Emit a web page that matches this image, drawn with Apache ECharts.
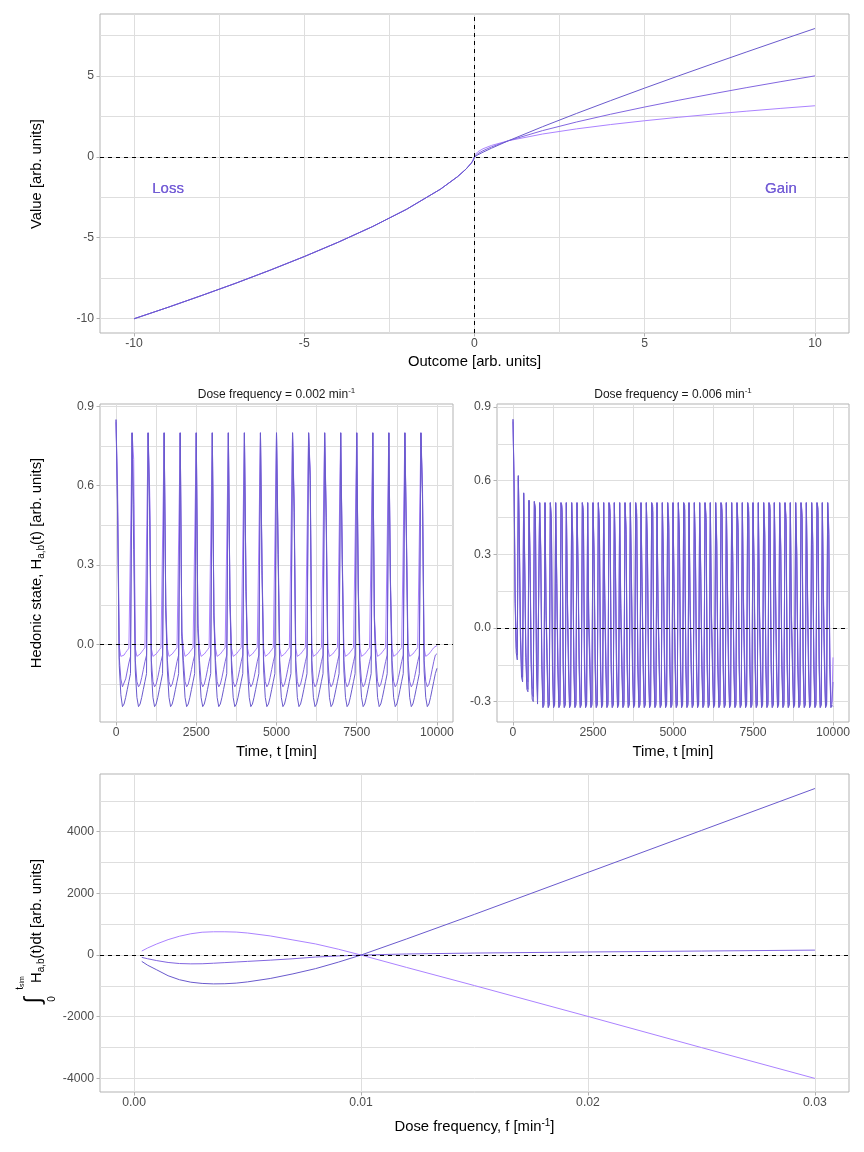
<!DOCTYPE html>
<html><head><meta charset="utf-8">
<script src="https://cdn.jsdelivr.net/npm/echarts@6/dist/echarts.min.js"></script>
<style>html,body{margin:0;padding:0;background:#fff}#c{width:864px;height:1152px}</style>
</head><body><div id="c"></div>
<script>
// ---------------- DATA ----------------
// Top panel: value function
const outcomeX = [-10,-9,-8,-7,-6,-5,-4,-3,-2,-1,-0.5,-0.25,-0.1,-0.05,-0.02,0,0.02,0.05,0.1,0.25,0.5,1,2,3,4,5,6,7,8,9,10];
const valueDark  = [-10.02,-9.31,-8.57,-7.81,-7.01,-6.17,-5.28,-4.32,-3.25,-2.00,-1.23,-0.76,-0.40,-0.25,-0.13,0,0.03,0.068,0.126,0.287,0.536,1,1.866,2.688,3.482,4.257,5.016,5.762,6.498,7.225,7.943];
const valueMid   = [-10.02,-9.31,-8.57,-7.81,-7.01,-6.17,-5.28,-4.32,-3.25,-2.00,-1.23,-0.76,-0.40,-0.25,-0.13,0,0.065,0.123,0.200,0.379,0.616,1,1.625,2.158,2.639,3.085,3.505,3.903,4.287,4.655,5.012];
const valueLight = [-10.02,-9.31,-8.57,-7.81,-7.01,-6.17,-5.28,-4.32,-3.25,-2.00,-1.23,-0.76,-0.40,-0.25,-0.13,0,0.141,0.224,0.316,0.5,0.707,1,1.414,1.732,2,2.236,2.449,2.646,2.828,3,3.162];
const annotations = [[-9,-2,'Loss'],[9,-2,'Gain']];

// Middle-left panel: dose frequency 0.002 /min, samples every 50 min (t = 0..10000)
const leftStepMin = 50;
const hedLeftDark = [
0.85,0.47,-0.08,-0.19,-0.235,-0.225,-0.20,-0.17,-0.14,-0.11,
0.80,0.36,-0.10,-0.20,-0.235,-0.225,-0.20,-0.17,-0.14,-0.11,
0.80,0.47,-0.10,-0.20,-0.235,-0.225,-0.20,-0.17,-0.14,-0.11,
0.80,0.13,-0.10,-0.20,-0.235,-0.225,-0.20,-0.17,-0.14,-0.11,
0.80,0.03,-0.10,-0.20,-0.235,-0.225,-0.20,-0.17,-0.14,-0.11,
0.80,0.06,-0.10,-0.20,-0.235,-0.225,-0.20,-0.17,-0.14,-0.11,
0.80,0.10,-0.10,-0.20,-0.235,-0.225,-0.20,-0.17,-0.14,-0.11,
0.80,0.16,-0.10,-0.20,-0.235,-0.225,-0.20,-0.17,-0.14,-0.11,
0.80,0.20,-0.10,-0.20,-0.235,-0.225,-0.20,-0.17,-0.14,-0.11,
0.80,0.26,-0.10,-0.20,-0.235,-0.225,-0.20,-0.17,-0.14,-0.11,
0.80,0.34,-0.10,-0.20,-0.235,-0.225,-0.20,-0.17,-0.14,-0.11,
0.80,0.50,-0.10,-0.20,-0.235,-0.225,-0.20,-0.17,-0.14,-0.11,
0.80,0.62,-0.10,-0.20,-0.235,-0.225,-0.20,-0.17,-0.14,-0.11,
0.80,0.45,-0.10,-0.20,-0.235,-0.225,-0.20,-0.17,-0.14,-0.11,
0.80,0.30,-0.10,-0.20,-0.235,-0.225,-0.20,-0.17,-0.14,-0.11,
0.80,0.18,-0.10,-0.20,-0.235,-0.225,-0.20,-0.17,-0.14,-0.11,
0.80,0.09,-0.10,-0.20,-0.235,-0.225,-0.20,-0.17,-0.14,-0.11,
0.80,0.22,-0.10,-0.20,-0.235,-0.225,-0.20,-0.17,-0.14,-0.11,
0.80,0.38,-0.10,-0.20,-0.235,-0.225,-0.20,-0.17,-0.14,-0.11,
0.80,0.55,-0.10,-0.20,-0.235,-0.225,-0.20,-0.17,-0.14,-0.11,
-0.09];
const hedLeftMid = [
0.85,0.52,-0.05,-0.13,-0.16,-0.155,-0.13,-0.10,-0.07,-0.045,
0.80,0.53,-0.06,-0.14,-0.16,-0.15,-0.125,-0.095,-0.065,-0.04,
0.80,0.52,-0.06,-0.14,-0.16,-0.15,-0.125,-0.095,-0.065,-0.04,
0.80,0.14,-0.06,-0.14,-0.16,-0.15,-0.125,-0.095,-0.065,-0.04,
0.80,0.04,-0.06,-0.14,-0.16,-0.15,-0.125,-0.095,-0.065,-0.04,
0.80,0.07,-0.06,-0.14,-0.16,-0.15,-0.125,-0.095,-0.065,-0.04,
0.80,0.11,-0.06,-0.14,-0.16,-0.15,-0.125,-0.095,-0.065,-0.04,
0.80,0.17,-0.06,-0.14,-0.16,-0.15,-0.125,-0.095,-0.065,-0.04,
0.80,0.21,-0.06,-0.14,-0.16,-0.15,-0.125,-0.095,-0.065,-0.04,
0.80,0.28,-0.06,-0.14,-0.16,-0.15,-0.125,-0.095,-0.065,-0.04,
0.80,0.36,-0.06,-0.14,-0.16,-0.15,-0.125,-0.095,-0.065,-0.04,
0.80,0.52,-0.06,-0.14,-0.16,-0.15,-0.125,-0.095,-0.065,-0.04,
0.80,0.64,-0.06,-0.14,-0.16,-0.15,-0.125,-0.095,-0.065,-0.04,
0.80,0.48,-0.06,-0.14,-0.16,-0.15,-0.125,-0.095,-0.065,-0.04,
0.80,0.32,-0.06,-0.14,-0.16,-0.15,-0.125,-0.095,-0.065,-0.04,
0.80,0.20,-0.06,-0.14,-0.16,-0.15,-0.125,-0.095,-0.065,-0.04,
0.80,0.10,-0.06,-0.14,-0.16,-0.15,-0.125,-0.095,-0.065,-0.04,
0.80,0.24,-0.06,-0.14,-0.16,-0.15,-0.125,-0.095,-0.065,-0.04,
0.80,0.40,-0.06,-0.14,-0.16,-0.15,-0.125,-0.095,-0.065,-0.04,
0.80,0.57,-0.06,-0.14,-0.16,-0.15,-0.125,-0.095,-0.065,-0.04,
-0.035];
const hedLeftLight = [
0.84,0.58,-0.01,-0.045,-0.045,-0.04,-0.03,-0.022,-0.014,-0.007,
0.80,0.70,-0.015,-0.045,-0.043,-0.036,-0.028,-0.02,-0.012,-0.005,
0.80,0.57,-0.015,-0.045,-0.043,-0.036,-0.028,-0.02,-0.012,-0.005,
0.80,0.15,-0.015,-0.045,-0.043,-0.036,-0.028,-0.02,-0.012,-0.005,
0.80,0.05,-0.015,-0.045,-0.043,-0.036,-0.028,-0.02,-0.012,-0.005,
0.80,0.08,-0.015,-0.045,-0.043,-0.036,-0.028,-0.02,-0.012,-0.005,
0.80,0.12,-0.015,-0.045,-0.043,-0.036,-0.028,-0.02,-0.012,-0.005,
0.80,0.18,-0.015,-0.045,-0.043,-0.036,-0.028,-0.02,-0.012,-0.005,
0.80,0.23,-0.015,-0.045,-0.043,-0.036,-0.028,-0.02,-0.012,-0.005,
0.80,0.29,-0.015,-0.045,-0.043,-0.036,-0.028,-0.02,-0.012,-0.005,
0.80,0.38,-0.015,-0.045,-0.043,-0.036,-0.028,-0.02,-0.012,-0.005,
0.80,0.55,-0.015,-0.045,-0.043,-0.036,-0.028,-0.02,-0.012,-0.005,
0.80,0.66,-0.015,-0.045,-0.043,-0.036,-0.028,-0.02,-0.012,-0.005,
0.80,0.50,-0.015,-0.045,-0.043,-0.036,-0.028,-0.02,-0.012,-0.005,
0.80,0.34,-0.015,-0.045,-0.043,-0.036,-0.028,-0.02,-0.012,-0.005,
0.80,0.21,-0.015,-0.045,-0.043,-0.036,-0.028,-0.02,-0.012,-0.005,
0.80,0.11,-0.015,-0.045,-0.043,-0.036,-0.028,-0.02,-0.012,-0.005,
0.80,0.25,-0.015,-0.045,-0.043,-0.036,-0.028,-0.02,-0.012,-0.005,
0.80,0.42,-0.015,-0.045,-0.043,-0.036,-0.028,-0.02,-0.012,-0.005,
0.80,0.60,-0.015,-0.045,-0.043,-0.036,-0.028,-0.02,-0.012,-0.005,
-0.004];

// Middle-right panel: dose frequency 0.006 /min, samples every 1000/30 min (t = 0..10000)
const rightStepMin = 1000 / 30;
const hedRightDark = [
0.85,0.57,0.10,-0.10,-0.13, 0.62,0.33,-0.05,-0.20,-0.22, 0.55,0.24,-0.12,-0.25,-0.26, 0.52,0.25,-0.15,-0.29,-0.30, 0.515,0.48,-0.16,-0.31,-0.31,
0.51,0.30,-0.17,-0.325,-0.315, 0.51,0.05,-0.17,-0.325,-0.315, 0.51,0.42,-0.17,-0.325,-0.315, 0.51,0.18,-0.17,-0.325,-0.315, 0.51,0.47,-0.17,-0.325,-0.315,
0.51,0.10,-0.17,-0.325,-0.315, 0.51,0.35,-0.17,-0.325,-0.315, 0.51,0.22,-0.17,-0.325,-0.315, 0.51,0.45,-0.17,-0.325,-0.315, 0.51,0.02,-0.17,-0.325,-0.315,
0.51,0.28,-0.17,-0.325,-0.315, 0.51,0.40,-0.17,-0.325,-0.315, 0.51,0.12,-0.17,-0.325,-0.315, 0.51,0.46,-0.17,-0.325,-0.315, 0.51,0.25,-0.17,-0.325,-0.315,
0.51,0.08,-0.17,-0.325,-0.315, 0.51,0.38,-0.17,-0.325,-0.315, 0.51,0.20,-0.17,-0.325,-0.315, 0.51,0.44,-0.17,-0.325,-0.315, 0.51,0.15,-0.17,-0.325,-0.315,
0.51,0.32,-0.17,-0.325,-0.315, 0.51,0.47,-0.17,-0.325,-0.315, 0.51,0.06,-0.17,-0.325,-0.315, 0.51,0.26,-0.17,-0.325,-0.315, 0.51,0.41,-0.17,-0.325,-0.315,
0.51,0.14,-0.17,-0.325,-0.315, 0.51,0.36,-0.17,-0.325,-0.315, 0.51,0.48,-0.17,-0.325,-0.315, 0.51,0.09,-0.17,-0.325,-0.315, 0.51,0.30,-0.17,-0.325,-0.315,
0.51,0.21,-0.17,-0.325,-0.315, 0.51,0.43,-0.17,-0.325,-0.315, 0.51,0.04,-0.17,-0.325,-0.315, 0.51,0.33,-0.17,-0.325,-0.315, 0.51,0.46,-0.17,-0.325,-0.315,
0.51,0.17,-0.17,-0.325,-0.315, 0.51,0.27,-0.17,-0.325,-0.315, 0.51,0.39,-0.17,-0.325,-0.315, 0.51,0.11,-0.17,-0.325,-0.315, 0.51,0.45,-0.17,-0.325,-0.315,
0.51,0.23,-0.17,-0.325,-0.315, 0.51,0.07,-0.17,-0.325,-0.315, 0.51,0.37,-0.17,-0.325,-0.315, 0.51,0.48,-0.17,-0.325,-0.315, 0.51,0.19,-0.17,-0.325,-0.315,
0.51,0.31,-0.17,-0.325,-0.315, 0.51,0.42,-0.17,-0.325,-0.315, 0.51,0.03,-0.17,-0.325,-0.315, 0.51,0.29,-0.17,-0.325,-0.315, 0.51,0.44,-0.17,-0.325,-0.315,
0.51,0.16,-0.17,-0.325,-0.315, 0.51,0.34,-0.17,-0.325,-0.315, 0.51,0.47,-0.17,-0.325,-0.315, 0.51,0.12,-0.17,-0.325,-0.315, 0.51,0.38,-0.17,-0.325,-0.315,
-0.32];
const hedRightMid = [
0.85,0.59,0.12,-0.08,-0.11, 0.62,0.35,-0.03,-0.18,-0.20, 0.55,0.26,-0.10,-0.23,-0.25, 0.52,0.27,-0.13,-0.27,-0.28, 0.515,0.48,-0.14,-0.29,-0.29,
0.51,0.32,-0.13,-0.32,-0.31, 0.51,0.07,-0.13,-0.32,-0.31, 0.51,0.44,-0.13,-0.32,-0.31, 0.51,0.20,-0.13,-0.32,-0.31, 0.51,0.49,-0.13,-0.32,-0.31,
0.51,0.12,-0.13,-0.32,-0.31, 0.51,0.37,-0.13,-0.32,-0.31, 0.51,0.24,-0.13,-0.32,-0.31, 0.51,0.47,-0.13,-0.32,-0.31, 0.51,0.04,-0.13,-0.32,-0.31,
0.51,0.30,-0.13,-0.32,-0.31, 0.51,0.42,-0.13,-0.32,-0.31, 0.51,0.14,-0.13,-0.32,-0.31, 0.51,0.48,-0.13,-0.32,-0.31, 0.51,0.27,-0.13,-0.32,-0.31,
0.51,0.10,-0.13,-0.32,-0.31, 0.51,0.40,-0.13,-0.32,-0.31, 0.51,0.22,-0.13,-0.32,-0.31, 0.51,0.46,-0.13,-0.32,-0.31, 0.51,0.17,-0.13,-0.32,-0.31,
0.51,0.34,-0.13,-0.32,-0.31, 0.51,0.49,-0.13,-0.32,-0.31, 0.51,0.08,-0.13,-0.32,-0.31, 0.51,0.28,-0.13,-0.32,-0.31, 0.51,0.43,-0.13,-0.32,-0.31,
0.51,0.16,-0.13,-0.32,-0.31, 0.51,0.38,-0.13,-0.32,-0.31, 0.51,0.50,-0.13,-0.32,-0.31, 0.51,0.11,-0.13,-0.32,-0.31, 0.51,0.32,-0.13,-0.32,-0.31,
0.51,0.23,-0.13,-0.32,-0.31, 0.51,0.45,-0.13,-0.32,-0.31, 0.51,0.06,-0.13,-0.32,-0.31, 0.51,0.35,-0.13,-0.32,-0.31, 0.51,0.48,-0.13,-0.32,-0.31,
0.51,0.19,-0.13,-0.32,-0.31, 0.51,0.29,-0.13,-0.32,-0.31, 0.51,0.41,-0.13,-0.32,-0.31, 0.51,0.13,-0.13,-0.32,-0.31, 0.51,0.47,-0.13,-0.32,-0.31,
0.51,0.25,-0.13,-0.32,-0.31, 0.51,0.09,-0.13,-0.32,-0.31, 0.51,0.39,-0.13,-0.32,-0.31, 0.51,0.50,-0.13,-0.32,-0.31, 0.51,0.21,-0.13,-0.32,-0.31,
0.51,0.33,-0.13,-0.32,-0.31, 0.51,0.44,-0.13,-0.32,-0.31, 0.51,0.05,-0.13,-0.32,-0.31, 0.51,0.31,-0.13,-0.32,-0.31, 0.51,0.46,-0.13,-0.32,-0.31,
0.51,0.18,-0.13,-0.32,-0.31, 0.51,0.36,-0.13,-0.32,-0.31, 0.51,0.49,-0.13,-0.32,-0.31, 0.51,0.14,-0.13,-0.32,-0.31, 0.51,0.40,-0.13,-0.32,-0.31,
-0.22];
const hedRightLight = [
0.84,0.61,0.15,-0.05,-0.08, 0.61,0.38,0.00,-0.15,-0.17, 0.545,0.29,-0.07,-0.20,-0.22, 0.515,0.30,-0.09,-0.24,-0.25, 0.512,0.49,-0.10,-0.26,-0.26,
0.51,0.34,-0.08,-0.31,-0.30, 0.51,0.09,-0.08,-0.31,-0.30, 0.51,0.46,-0.08,-0.31,-0.30, 0.51,0.22,-0.08,-0.31,-0.30, 0.51,0.50,-0.08,-0.31,-0.30,
0.51,0.14,-0.08,-0.31,-0.30, 0.51,0.39,-0.08,-0.31,-0.30, 0.51,0.26,-0.08,-0.31,-0.30, 0.51,0.49,-0.08,-0.31,-0.30, 0.51,0.06,-0.08,-0.31,-0.30,
0.51,0.32,-0.08,-0.31,-0.30, 0.51,0.44,-0.08,-0.31,-0.30, 0.51,0.16,-0.08,-0.31,-0.30, 0.51,0.50,-0.08,-0.31,-0.30, 0.51,0.29,-0.08,-0.31,-0.30,
0.51,0.12,-0.08,-0.31,-0.30, 0.51,0.42,-0.08,-0.31,-0.30, 0.51,0.24,-0.08,-0.31,-0.30, 0.51,0.48,-0.08,-0.31,-0.30, 0.51,0.19,-0.08,-0.31,-0.30,
0.51,0.36,-0.08,-0.31,-0.30, 0.51,0.50,-0.08,-0.31,-0.30, 0.51,0.10,-0.08,-0.31,-0.30, 0.51,0.30,-0.08,-0.31,-0.30, 0.51,0.45,-0.08,-0.31,-0.30,
0.51,0.18,-0.08,-0.31,-0.30, 0.51,0.40,-0.08,-0.31,-0.30, 0.51,0.51,-0.08,-0.31,-0.30, 0.51,0.13,-0.08,-0.31,-0.30, 0.51,0.34,-0.08,-0.31,-0.30,
0.51,0.25,-0.08,-0.31,-0.30, 0.51,0.47,-0.08,-0.31,-0.30, 0.51,0.08,-0.08,-0.31,-0.30, 0.51,0.37,-0.08,-0.31,-0.30, 0.51,0.50,-0.08,-0.31,-0.30,
0.51,0.21,-0.08,-0.31,-0.30, 0.51,0.31,-0.08,-0.31,-0.30, 0.51,0.43,-0.08,-0.31,-0.30, 0.51,0.15,-0.08,-0.31,-0.30, 0.51,0.49,-0.08,-0.31,-0.30,
0.51,0.27,-0.08,-0.31,-0.30, 0.51,0.11,-0.08,-0.31,-0.30, 0.51,0.41,-0.08,-0.31,-0.30, 0.51,0.51,-0.08,-0.31,-0.30, 0.51,0.23,-0.08,-0.31,-0.30,
0.51,0.35,-0.08,-0.31,-0.30, 0.51,0.46,-0.08,-0.31,-0.30, 0.51,0.07,-0.08,-0.31,-0.30, 0.51,0.33,-0.08,-0.31,-0.30, 0.51,0.48,-0.08,-0.31,-0.30,
0.51,0.20,-0.08,-0.31,-0.30, 0.51,0.38,-0.08,-0.31,-0.30, 0.51,0.51,-0.08,-0.31,-0.30, 0.51,0.16,-0.08,-0.31,-0.30, 0.51,0.42,-0.08,-0.31,-0.30,
-0.12];

// Bottom panel: integrated hedonic state vs dose frequency
const doseFreq      = [0.00034,0.0006,0.001,0.0015,0.002,0.0025,0.003,0.0035,0.004,0.0045,0.005,0.006,0.007,0.008,0.009,0.01,0.012,0.015,0.02,0.025,0.03];
const integralDark  = [-205,-330,-480,-670,-800,-880,-920,-935,-930,-910,-870,-760,-610,-440,-230,0,520,1320,2680,4040,5400];
const integralMid   = [-75,-120,-180,-240,-275,-285,-282,-265,-245,-225,-205,-165,-120,-65,-30,0,35,65,100,130,160];
const integralLight = [130,230,360,500,610,690,740,755,755,745,715,620,490,360,190,0,-400,-990,-1990,-3000,-4000];

// Tick labels
const topXTicks = [-10,-5,0,5,10];
const topYTicks = [-10,-5,0,5];
const timeTicks = [0,2500,5000,7500,10000];
const leftYTicks = [0,0.3,0.6,0.9];
const rightYTicks = [-0.3,0,0.3,0.6,0.9];
const freqTicks = [0,0.01,0.02,0.03];
const intYTicks = [-4000,-2000,0,2000,4000];

// ---------------- STYLE / BUILD ----------------
const FONT = '"Liberation Sans", Arial, Helvetica, sans-serif';
const C = {dark:'#6A5ACD', mid:'#8266E0', light:'#AB82FF'};
const GRID_COLOR = '#dedede';

function pairs(xs, ys){ return xs.map((x,i)=>[x, ys[i]]); }
function timed(step, ys){ return ys.map((y,i)=>[i*step, y]); }

function axis(gi, min, max, ticks, fmt, isY){
  return {
    gridIndex: gi, type: 'value', min: min, max: max,
    axisLine: {show: false, onZero: false},
    splitLine: {show: false}, minorSplitLine: {show: false},
    axisTick: {show: true, customValues: ticks, length: 3.5, lineStyle: {color: '#b3b3b3', width: 1}},
    axisLabel: {customValues: ticks, formatter: fmt, color: '#4d4d4d', fontSize: 12.2, fontFamily: FONT, margin: isY ? 6 : 5}
  };
}
function gridLines(gi, xs, ys){
  return {
    type: 'line', xAxisIndex: gi, yAxisIndex: gi, data: [], silent: true, z: 1,
    markLine: {
      silent: true, symbol: ['none','none'], label: {show: false}, animation: false, z: 1,
      emphasis: {disabled: true},
      lineStyle: {color: GRID_COLOR, width: 1, type: 'solid'},
      data: xs.map(v=>({xAxis: v})).concat(ys.map(v=>({yAxis: v})))
    }
  };
}
function dashed(gi, xs, ys){
  return {
    type: 'line', xAxisIndex: gi, yAxisIndex: gi, data: [], silent: true, z: 6,
    markLine: {
      silent: true, symbol: ['none','none'], label: {show: false}, animation: false, z: 6,
      emphasis: {disabled: true},
      lineStyle: {color: '#000', width: 1, type: [4,4]},
      data: xs.map(v=>({xAxis: v})).concat(ys.map(v=>({yAxis: v})))
    }
  };
}
function line(gi, data, color){
  return {type: 'line', xAxisIndex: gi, yAxisIndex: gi, data: data, showSymbol: false, symbol: 'none',
    lineStyle: {color: color, width: 1}, itemStyle: {color: color}, z: 3, silent: true, animation: false};
}
function annot(color){
  return {type: 'scatter', xAxisIndex: 0, yAxisIndex: 0, data: annotations, symbolSize: 1, z: 5, silent: true,
    itemStyle: {color: 'rgba(0,0,0,0)'},
    label: {show: true, position: 'inside', formatter: p => p.data[2], color: color, fontSize: 15, fontFamily: FONT}};
}

const fmtInt = v => String(Math.round(v));
const fmt1 = v => v.toFixed(1);
const fmt2 = v => v.toFixed(2);

const grids = [
  {left: 100, top: 14, width: 749, height: 319},
  {left: 100, top: 404, width: 353, height: 318},
  {left: 497, top: 404, width: 352, height: 318},
  {left: 100, top: 774, width: 749, height: 318}
].map(g => Object.assign(g, {show: true, borderColor: '#b3b3b3', borderWidth: 1, backgroundColor: '#fff', containLabel: false}));

const xAxes = [
  axis(0, -11, 11, topXTicks, fmtInt),
  axis(1, -500, 10500, timeTicks, fmtInt),
  axis(2, -500, 10500, timeTicks, fmtInt),
  axis(3, -0.0015, 0.0315, freqTicks, fmt2)
];
const yAxes = [
  axis(0, -10.9, 8.84, topYTicks, fmtInt, true),
  axis(1, -0.293, 0.909, leftYTicks, fmt1, true),
  axis(2, -0.383, 0.912, rightYTicks, fmt1, true),
  axis(3, -4440, 5870, intYTicks, fmtInt, true)
];

const series = [
  gridLines(0, [-10,-7.5,-5,-2.5,0,2.5,5,7.5,10], [-10,-7.5,-5,-2.5,0,2.5,5,7.5]),
  gridLines(1, [0,1250,2500,3750,5000,6250,7500,8750,10000], [-0.15,0,0.15,0.3,0.45,0.6,0.75,0.9]),
  gridLines(2, [0,1250,2500,3750,5000,6250,7500,8750,10000], [-0.3,-0.15,0,0.15,0.3,0.45,0.6,0.75,0.9]),
  gridLines(3, [0,0.005,0.01,0.015,0.02,0.025,0.03], [-4000,-3000,-2000,-1000,0,1000,2000,3000,4000,5000]),

  line(0, pairs(outcomeX, valueLight), C.light),
  line(0, pairs(outcomeX, valueMid), C.mid),
  line(0, pairs(outcomeX, valueDark), C.dark),
  annot(C.light), annot(C.mid), annot(C.dark),

  line(1, timed(leftStepMin, hedLeftLight), C.light),
  line(1, timed(leftStepMin, hedLeftMid), C.mid),
  line(1, timed(leftStepMin, hedLeftDark), C.dark),

  line(2, timed(rightStepMin, hedRightLight), C.light),
  line(2, timed(rightStepMin, hedRightMid), C.mid),
  line(2, timed(rightStepMin, hedRightDark), C.dark),

  line(3, pairs(doseFreq, integralLight), C.light),
  line(3, pairs(doseFreq, integralMid), C.mid),
  line(3, pairs(doseFreq, integralDark), C.dark),

  dashed(0, [0], [0]),
  dashed(1, [], [0]),
  dashed(2, [], [0]),
  dashed(3, [], [0])
];

// ---------- titles (graphic text) ----------
const TF = (s) => s + 'px ' + FONT;
function txt(x, y, text, size, rot, rich, color){
  const st = {text: text, font: TF(size), fill: color || '#000',
    align: 'center', verticalAlign: 'middle', textAlign: 'center', textVerticalAlign: 'middle'};
  if (rich) st.rich = rich;
  return {type: 'text', x: x, y: y, rotation: rot || 0, silent: true, z: 100, style: st};
}
const richTitle = {
  b:   {font: TF(14.8), fill: '#000', lineHeight: 18, verticalAlign: 'middle'},
  sub: {font: TF(10), fill: '#000', lineHeight: 10, verticalAlign: 'bottom'},
  sup: {font: TF(10), fill: '#000', lineHeight: 10, verticalAlign: 'top'}
};
const richStrip = {
  b:   {font: TF(12), fill: '#1a1a1a', lineHeight: 16, verticalAlign: 'middle'},
  sup: {font: TF(8), fill: '#1a1a1a', lineHeight: 8, verticalAlign: 'top'}
};
const R90 = Math.PI / 2;

const graphics = [
  txt(37, 174, 'Value [arb. units]', 14.8, R90),
  txt(474.5, 362, 'Outcome [arb. units]', 14.8),
  txt(37, 563, '{b|Hedonic state, H}{sub|a,b}{b|(t) [arb. units]}', 14.8, R90, richTitle),
  txt(276.5, 752, 'Time, t [min]', 14.8),
  txt(673, 752, 'Time, t [min]', 14.8),
  txt(276.5, 395, '{b|Dose frequency = 0.002 min}{sup|-1}', 12, 0, richStrip),
  txt(673, 395, '{b|Dose frequency = 0.006 min}{sup|-1}', 12, 0, richStrip),
  txt(474.5, 1127, '{b|Dose frequency, f [min}{sup|-1}{b|]}', 14.8, 0, richTitle),
  {
    type: 'group', x: 37, y: 933, rotation: R90, silent: true, z: 100,
    children: [
      txt(12, 0, '{b|H}{sub|a,b}{b|(t)dt [arb. units]}', 14.8, 0, richTitle),
      txt(-67, -3, '\u222B', 23),
      txt(-50, -17, 't{s|sim}', 10, 0, {s: {font: TF(7), fill: '#000', lineHeight: 12, verticalAlign: 'bottom'}}),
      txt(-66, 15, '0', 10)
    ]
  }
];

const chart = echarts.init(document.getElementById('c'), null, {renderer: 'canvas'});
chart.setOption({
  animation: false,
  backgroundColor: '#fff',
  textStyle: {fontFamily: FONT},
  grid: grids,
  xAxis: xAxes,
  yAxis: yAxes,
  series: series,
  graphic: {elements: graphics}
});
</script></body></html>
